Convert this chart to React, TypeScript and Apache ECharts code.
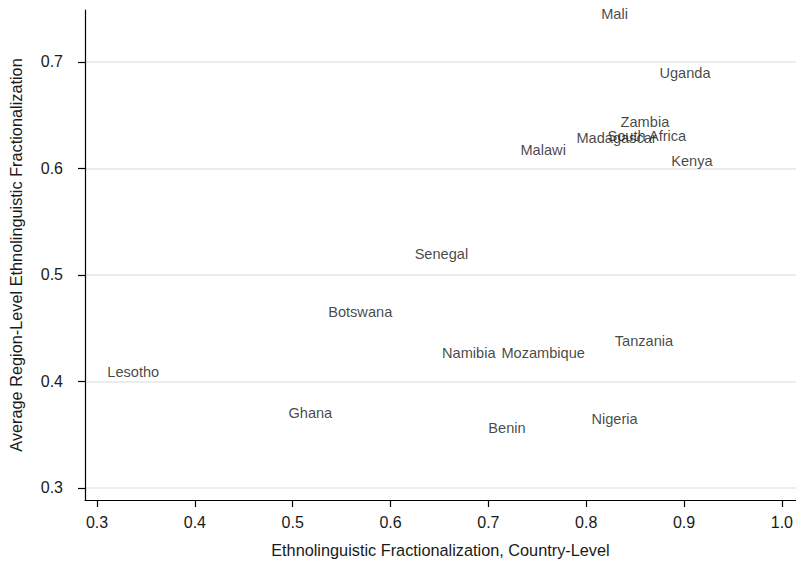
import React, { useEffect, useRef } from "react";
import * as echarts from "echarts";

const countries = [
  "Mali", "Uganda", "Zambia", "South Africa", "Madagascar", "Malawi", "Kenya",
  "Senegal", "Botswana", "Namibia", "Mozambique", "Tanzania", "Lesotho",
  "Ghana", "Benin", "Nigeria",
];
const countryELF = [
  0.829, 0.901, 0.860, 0.862, 0.831, 0.756, 0.908,
  0.652, 0.569, 0.680, 0.756, 0.859, 0.337,
  0.518, 0.719, 0.829,
];
const regionELF = [
  0.745, 0.690, 0.644, 0.6305, 0.629, 0.617, 0.607,
  0.520, 0.465, 0.427, 0.427, 0.438, 0.409,
  0.370, 0.356, 0.365,
];
const xTicks = [0.3, 0.4, 0.5, 0.6, 0.7, 0.8, 0.9, 1.0];
const yTicks = [0.3, 0.4, 0.5, 0.6, 0.7];

const FONT = "'Liberation Sans', Arial, Helvetica, sans-serif";

export default function App() {
  const ref = useRef<HTMLDivElement>(null);
  useEffect(() => {
    if (!ref.current) return;
    const chart = echarts.init(ref.current, undefined, { renderer: "svg" });
    const data = countries.map((c, i) => ({ name: c, value: [countryELF[i], regionELF[i]] }));
    chart.setOption({
      animation: false,
      backgroundColor: "#ffffff",
      grid: { left: 85, right: 0, top: 10, bottom: 68, containLabel: false },
      xAxis: {
        type: "value",
        min: 0.2877,
        max: 1.0143,
        name: "Ethnolinguistic Fractionalization, Country-Level",
        nameLocation: "middle",
        nameGap: 42,
        nameTextStyle: { fontFamily: FONT, fontSize: 16.3, color: "#1a1a1a" },
        axisLine: { show: true, lineStyle: { color: "#000", width: 1.2 } },
        axisTick: { show: true, length: 7, customValues: xTicks, lineStyle: { color: "#000", width: 1.2 } },
        axisLabel: {
          customValues: xTicks,
          margin: 14,
          fontFamily: FONT,
          fontSize: 16,
          color: "#1a1a1a",
          formatter: (v: number) => v.toFixed(1),
        },
        splitLine: { show: false },
      },
      yAxis: {
        type: "value",
        min: 0.2887,
        max: 0.7488,
        name: "Average Region-Level Ethnolinguistic Fractionalization",
        nameLocation: "middle",
        nameGap: 61,
        nameTextStyle: { fontFamily: FONT, fontSize: 16.3, color: "#1a1a1a" },
        axisLine: { show: true, lineStyle: { color: "#000", width: 1.2 } },
        axisTick: { show: true, length: 7, customValues: yTicks, lineStyle: { color: "#000", width: 1.2 } },
        axisLabel: {
          customValues: yTicks,
          margin: 22,
          fontFamily: FONT,
          fontSize: 16,
          color: "#1a1a1a",
          formatter: (v: number) => v.toFixed(1),
        },
        splitLine: { show: true, lineStyle: { color: "#e6e6e6", width: 1.5 } },
      },
      series: [
        {
          type: "scatter",
          data,
          symbol: "circle",
          symbolSize: 1,
          itemStyle: { color: "rgba(0,0,0,0)" },
          label: {
            show: true,
            position: "inside",
            formatter: (p: any) => p.name,
            fontFamily: FONT,
            fontSize: 14.6,
            color: "#151515",
          },
          labelLayout: { hideOverlap: false },
        },
      ],
    });
    return () => chart.dispose();
  }, []);
  return (
    <div
      ref={ref}
      style={{ position: "fixed", left: 0, top: 0, width: 796, height: 568, background: "#fff" }}
    />
  );
}
